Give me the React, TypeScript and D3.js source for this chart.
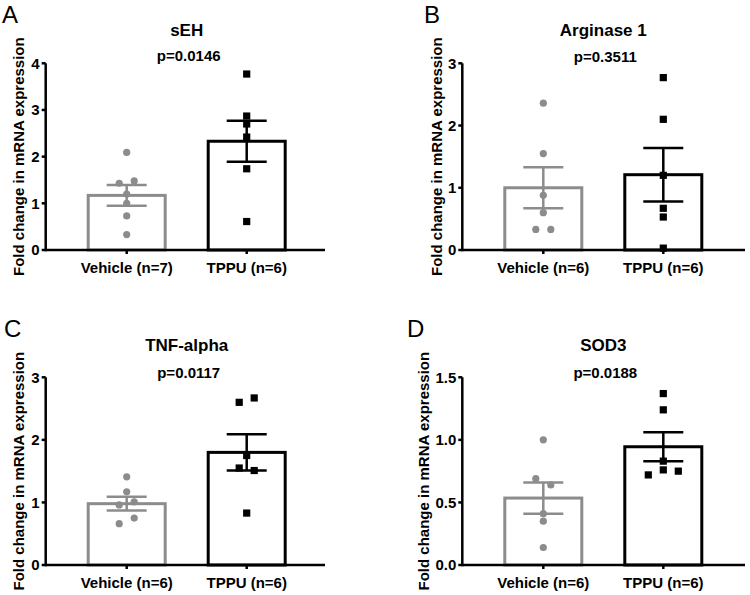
import React from "react";
import * as d3 from "d3";

const groups = ["Vehicle", "TPPU"];

const titlesA = "sEH";
const sehVehicle = [2.09, 1.43, 1.48, 1.2, 1.0, 0.73, 0.33];
const sehVehicleOff = [0, -1, 1, 0, 0, 0, 0];
const sehTppu = [3.77, 2.87, 2.7, 2.42, 1.74, 0.61];
const sehTppuOff = [0, 0, 0, 0, 0, 0];
const sehMean = [1.17, 2.33];
const sehSem = [0.22, 0.44];

const argVehicle = [2.36, 1.55, 0.88, 0.6, 0.33, 0.33];
const argVehicleOff = [0, 0, 0, 0, -1, 1];
const argTppu = [2.77, 2.1, 1.2, 0.67, 0.53, 0.03];
const argTppuOff = [0, 0, 0, 0, 0, 0];
const argMean = [1.0, 1.21];
const argSem = [0.33, 0.43];

const tnfVehicle = [1.41, 1.17, 1.01, 0.96, 0.75, 0.66];
const tnfVehicleOff = [0, 0, 1, -1, 1, -1];
const tnfTppu = [2.6, 2.67, 1.75, 1.55, 1.51, 0.83];
const tnfTppuOff = [-1, 1, 0, -1, 1, 0];
const tnfMean = [0.98, 1.8];
const tnfSem = [0.11, 0.29];

const sodVehicle = [1.0, 0.69, 0.64, 0.41, 0.35, 0.14];
const sodVehicleOff = [0, -1, 1, 0, 0, 0];
const sodTppu = [1.37, 1.24, 0.83, 0.76, 0.72, 0.75];
const sodTppuOff = [0, 0, 0, 0, -2, 2];
const sodMean = [0.535, 0.945];
const sodSem = [0.125, 0.115];

const xLabelsA = ["Vehicle (n=7)", "TPPU (n=6)"];
const xLabels6 = ["Vehicle (n=6)", "TPPU (n=6)"];

const ticksA = [0, 1, 2, 3, 4];
const ticksB = [0, 1, 2, 3];
const ticksC = [0, 1, 2, 3];
const ticksD = [0, 0.5, 1.0, 1.5];

const YLABEL = "Fold change in mRNA expression";
const FONT = "'Liberation Sans', Arial, Helvetica, sans-serif";
const GRAY = "#8c8c8c";

type PanelProps = {
  letter: string;
  title: string;
  pval: string;
  x0: number;
  x1: number;
  yBase: number;
  yTop: number;
  ticks: number[];
  tickFmt: (v: number) => string;
  xLabels: string[];
  vehicle: number[];
  vehicleOff: number[];
  tppu: number[];
  tppuOff: number[];
  mean: number[];
  sem: number[];
  letterX: number;
  letterY: number;
  yLabelX: number;
  titleY: number;
  pY: number;
  jitter: number[];
};

function Panel(p: PanelProps) {
  const y = d3
    .scaleLinear()
    .domain([0, p.ticks[p.ticks.length - 1]])
    .range([p.yBase, p.yTop]);
  const x = d3
    .scalePoint<string>()
    .domain(groups)
    .range([p.x0 + 81, p.x0 + 201]);
  const barW = 77;
  const capW = 40;
  const colors = [GRAY, "#000"];
  const pts = [p.vehicle, p.tppu];
  const offs = [p.vehicleOff, p.tppuOff];
  const mid = (x(groups[0])! + x(groups[1])!) / 2;
  return (
    <g>
      <text
        x={p.letterX}
        y={p.letterY}
        fontFamily="'Liberation Sans', Arial, sans-serif"
        fontSize={24}
        fill="#000"
      >
        {p.letter}
      </text>
      <text
        x={mid}
        y={p.titleY}
        textAnchor="middle"
        fontFamily={FONT}
        fontWeight="bold"
        fontSize={17}
      >
        {p.title}
      </text>
      <text
        x={mid + 2}
        y={p.pY}
        textAnchor="middle"
        fontFamily={FONT}
        fontWeight="bold"
        fontSize={15}
      >
        {p.pval}
      </text>
      <text
        transform={`translate(${p.yLabelX},${(p.yBase + p.yTop) / 2}) rotate(-90)`}
        textAnchor="middle"
        dominantBaseline="central"
        fontFamily={FONT}
        fontWeight="bold"
        fontSize={15}
      >
        {YLABEL}
      </text>
      {groups.map((g, i) => {
        const cx = x(g)!;
        const top = y(p.mean[i]);
        return (
          <g key={g}>
            <rect
              x={cx - barW / 2}
              y={top}
              width={barW}
              height={p.yBase - top}
              fill="#fff"
              stroke={colors[i]}
              strokeWidth={3}
            />
            {pts[i].map((v, j) => {
              const px = cx + offs[i][j] * p.jitter[i];
              const py = y(v);
              return i === 0 ? (
                <circle key={j} cx={px} cy={py} r={3.6} fill={GRAY} />
              ) : (
                <rect
                  key={j}
                  x={px - 3.6}
                  y={py - 3.6}
                  width={7.2}
                  height={7.2}
                  fill="#000"
                />
              );
            })}
            <line
              x1={cx}
              x2={cx}
              y1={y(p.mean[i] + p.sem[i])}
              y2={y(p.mean[i] - p.sem[i])}
              stroke={colors[i]}
              strokeWidth={2.5}
            />
            <line
              x1={cx - capW / 2}
              x2={cx + capW / 2}
              y1={y(p.mean[i] + p.sem[i])}
              y2={y(p.mean[i] + p.sem[i])}
              stroke={colors[i]}
              strokeWidth={2.5}
            />
            <line
              x1={cx - capW / 2}
              x2={cx + capW / 2}
              y1={y(p.mean[i] - p.sem[i])}
              y2={y(p.mean[i] - p.sem[i])}
              stroke={colors[i]}
              strokeWidth={2.5}
            />
            <line
              x1={cx}
              x2={cx}
              y1={p.yBase}
              y2={p.yBase + 4}
              stroke="#000"
              strokeWidth={2.5}
            />
            <text
              x={cx}
              y={p.yBase + 23}
              textAnchor="middle"
              fontFamily={FONT}
              fontWeight="bold"
              fontSize={15}
            >
              {p.xLabels[i]}
            </text>
          </g>
        );
      })}
      <line
        x1={p.x0}
        x2={p.x1}
        y1={p.yBase}
        y2={p.yBase}
        stroke="#000"
        strokeWidth={2.5}
      />
      <line
        x1={p.x0}
        x2={p.x0}
        y1={p.yBase + 1.25}
        y2={p.yTop}
        stroke="#000"
        strokeWidth={2.5}
      />
      {p.ticks.map((t) => (
        <g key={t}>
          <line
            x1={p.x0 - 4}
            x2={p.x0}
            y1={y(t)}
            y2={y(t)}
            stroke="#000"
            strokeWidth={2.5}
          />
          <text
            x={p.x0 - 6}
            y={y(t)}
            dy="0.36em"
            textAnchor="end"
            fontFamily={FONT}
            fontWeight="bold"
            fontSize={15}
          >
            {p.tickFmt(t)}
          </text>
        </g>
      ))}
    </g>
  );
}

export default function App() {
  const intFmt = d3.format("d");
  const decFmt = d3.format(".1f");
  return (
    <svg
      width={750}
      height={595}
      style={{ position: "absolute", left: 0, top: 0, background: "#fff" }}
    >
      <rect width={750} height={595} fill="#fff" />
      <Panel
        letter="A"
        title={titlesA}
        pval="p=0.0146"
        x0={45.7}
        x1={325}
        yBase={250}
        yTop={63.3}
        ticks={ticksA}
        tickFmt={intFmt}
        xLabels={xLabelsA}
        vehicle={sehVehicle}
        vehicleOff={sehVehicleOff}
        tppu={sehTppu}
        tppuOff={sehTppuOff}
        mean={sehMean}
        sem={sehSem}
        letterX={2}
        letterY={23}
        yLabelX={18}
        titleY={36}
        pY={61}
        jitter={[7.5, 7.5]}
      />
      <Panel
        letter="B"
        title="Arginase 1"
        pval="p=0.3511"
        x0={462.3}
        x1={745}
        yBase={250}
        yTop={63.3}
        ticks={ticksB}
        tickFmt={intFmt}
        xLabels={xLabels6}
        vehicle={argVehicle}
        vehicleOff={argVehicleOff}
        tppu={argTppu}
        tppuOff={argTppuOff}
        mean={argMean}
        sem={argSem}
        letterX={424}
        letterY={23}
        yLabelX={436}
        titleY={36}
        pY={62}
        jitter={[7.5, 7.5]}
      />
      <Panel
        letter="C"
        title="TNF-alpha"
        pval="p=0.0117"
        x0={45.7}
        x1={325}
        yBase={565}
        yTop={377.3}
        ticks={ticksC}
        tickFmt={intFmt}
        xLabels={xLabels6}
        vehicle={tnfVehicle}
        vehicleOff={tnfVehicleOff}
        tppu={tnfTppu}
        tppuOff={tnfTppuOff}
        mean={tnfMean}
        sem={tnfSem}
        letterX={4}
        letterY={337}
        yLabelX={18}
        titleY={351}
        pY={378}
        jitter={[7.5, 7.5]}
      />
      <Panel
        letter="D"
        title="SOD3"
        pval="p=0.0188"
        x0={462.3}
        x1={745}
        yBase={565}
        yTop={377.3}
        ticks={ticksD}
        tickFmt={decFmt}
        xLabels={xLabels6}
        vehicle={sodVehicle}
        vehicleOff={sodVehicleOff}
        tppu={sodTppu}
        tppuOff={sodTppuOff}
        mean={sodMean}
        sem={sodSem}
        letterX={407}
        letterY={337}
        yLabelX={423}
        titleY={351}
        pY={378}
        jitter={[7.5, 7.5]}
      />
    </svg>
  );
}
